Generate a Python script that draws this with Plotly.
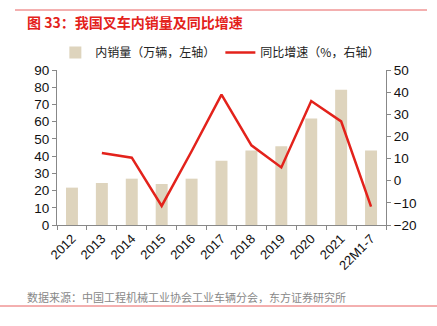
import plotly.graph_objects as go

categories = ["2012", "2013", "2014", "2015", "2016", "2017", "2018", "2019", "2020", "2021", "22M1-7"]
sales = [21.7, 24.4, 26.9, 23.8, 26.9, 37.3, 43.2, 45.7, 61.9, 78.6, 43.2]
growth = [None, 12.5, 10.4, -11.4, 13.3, 38.9, 16.0, 6.0, 36.0, 26.8, -11.7]

W, H = 437, 326
L, R, T, B = 57, 51, 70, 101

font_num = "Liberation Sans, Arial, sans-serif"
font_cjk = "Noto Sans CJK SC, sans-serif"

fig = go.Figure()
fig.add_trace(go.Bar(
    x=categories, y=sales, name="内销量（万辆，左轴）",
    marker=dict(color="#DED4BD", line=dict(width=0)), width=0.4, yaxis="y",
))
fig.add_trace(go.Scatter(
    x=categories, y=growth, name="同比增速（%，右轴）", mode="lines",
    line=dict(color="#E3221B", width=2.5), yaxis="y2", connectgaps=False,
))

axis_col = "#888888"
fig.update_layout(
    width=W, height=H,
    margin=dict(l=L, r=R, t=T, b=B, pad=0),
    paper_bgcolor="white", plot_bgcolor="white",
    showlegend=True,
    legend=dict(orientation="h", x=-0.005, y=1.02, yanchor="bottom",
                xanchor="left", font=dict(family=font_cjk, size=12, color="#222"),
                itemwidth=30, tracegroupgap=0, bgcolor="rgba(0,0,0,0)"),
    xaxis=dict(type="category", tickangle=-45, tickson="boundaries", ticks="outside",
               ticklen=4, tickcolor=axis_col, showline=True, linecolor=axis_col,
               linewidth=1, showgrid=False, range=[-0.5, 10.5],
               tickfont=dict(family=font_num, size=13, color="#111")),
    yaxis=dict(range=[0, 90], dtick=10, ticks="outside", ticklen=4, tickcolor=axis_col,
               showline=True, linecolor=axis_col, showgrid=False, zeroline=False,
               tickfont=dict(family=font_num, size=13.5, color="#111")),
    yaxis2=dict(range=[-20, 50], dtick=10, overlaying="y", side="right", ticks="outside",
                ticklen=4, tickcolor=axis_col, showline=True, linecolor=axis_col,
                showgrid=False, zeroline=False,
                tickfont=dict(family=font_num, size=13.5, color="#111")),
    bargap=0.6,
)

fig.add_annotation(text="<b>图 33：我国叉车内销量及同比增速</b>", xref="paper", yref="paper",
                   x=(25 - L) / (W - L - R), y=1 + (T - 22) / (H - T - B),
                   xanchor="left", yanchor="middle", showarrow=False,
                   font=dict(family=font_cjk, size=14, color="#E3221B"))
fig.add_annotation(text="数据来源：中国工程机械工业协会工业车辆分会，东方证券研究所", xref="paper", yref="paper",
                   x=(25 - L) / (W - L - R), y=-(297 - (H - B)) / (H - T - B),
                   xanchor="left", yanchor="middle", showarrow=False,
                   font=dict(family=font_cjk, size=11, color="#888"))
fig.add_shape(type="line", xref="paper", yref="paper",
              x0=(15 - L) / (W - L - R), x1=(427 - L) / (W - L - R),
              y0=1 + (T - 10) / (H - T - B), y1=1 + (T - 10) / (H - T - B),
              line=dict(color="#E86060", width=1))
fig.add_shape(type="line", xref="paper", yref="paper",
              x0=(0 - L) / (W - L - R), x1=(437 - L) / (W - L - R),
              y0=-(306 - (H - B)) / (H - T - B), y1=-(306 - (H - B)) / (H - T - B),
              line=dict(color="#E86060", width=1))

fig.write_html("out.html")
